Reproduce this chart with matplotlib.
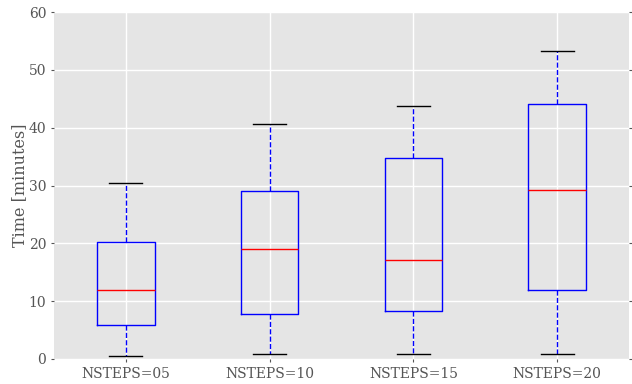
import matplotlib
matplotlib.use("Agg")
import matplotlib.pyplot as plt

labels = ["NSTEPS=05", "NSTEPS=10", "NSTEPS=15", "NSTEPS=20"]
whislo = [0.5, 0.9, 0.9, 0.9]
q1 = [5.9, 7.8, 8.3, 11.9]
med = [11.9, 19.0, 17.2, 29.3]
q3 = [20.3, 29.1, 34.7, 44.1]
whishi = [30.4, 40.7, 43.8, 53.3]

plt.style.use("ggplot")
plt.rcParams["font.family"] = ["DejaVu Serif"]

fig = plt.figure(figsize=(6.32, 3.84), dpi=100)
ax = fig.add_axes([54/632, 25/384, 575/632, 347/384])

stats = [dict(label=l, whislo=a, q1=b, med=c, q3=d, whishi=e, fliers=[])
         for l, a, b, c, d, e in zip(labels, whislo, q1, med, q3, whishi)]
ax.bxp(stats, widths=0.4, capwidths=0.23, showfliers=False,
       boxprops=dict(color="blue", linewidth=1.0),
       medianprops=dict(color="red", linewidth=1.0),
       whiskerprops=dict(color="blue", linestyle="--", linewidth=1.0),
       capprops=dict(color="black", linewidth=1.0))

ax.set_xlim(0.5, 4.5)
ax.set_ylim(0, 60)
ax.set_yticks(range(0, 61, 10))
ax.set_ylabel("Time [minutes]", fontsize=11.5, color="#555555", labelpad=0.5)
ax.tick_params(axis="both", labelsize=10, colors="#555555", direction="out", length=2)
ax.tick_params(axis="y", right=True)
ax.set_facecolor("#E5E5E5")
ax.grid(True, color="white", linewidth=1)
for s in ax.spines.values():
    s.set_visible(False)

fig.savefig("out.png", dpi=100)
